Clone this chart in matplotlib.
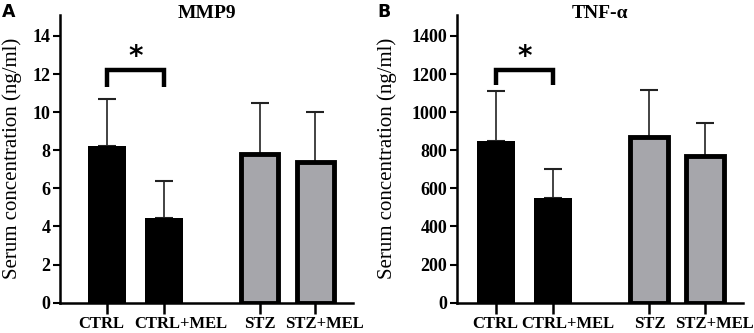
import matplotlib
matplotlib.use("Agg")
import matplotlib.pyplot as plt
from matplotlib.transforms import ScaledTranslation

categories = ["CTRL", "CTRL+MEL", "STZ", "STZ+MEL"]
positions = [0, 1, 2.68, 3.66]
mmp9_mean = [8.22, 4.46, 7.81, 7.38]
mmp9_err = [2.46, 1.92, 2.66, 2.64]
tnf_mean = [848, 551, 870, 768]
tnf_err = [264, 150, 245, 174]
mmp9_ticks = [0, 2, 4, 6, 8, 10, 12, 14]
tnf_ticks = [0, 200, 400, 600, 800, 1000, 1200, 1400]

SERIF = ["Liberation Serif", "DejaVu Serif"]
plt.rcParams['font.family'] = SERIF

fig = plt.figure(figsize=(7.54, 3.33), dpi=100)
W, H = 754, 333
axA = fig.add_axes([60 / W, 1 - 302.7 / H, 293 / W, 287.7 / H])
axB = fig.add_axes([457 / W, 1 - 302.7 / H, 286 / W, 287.7 / H])

face = ["black", "black", "#A6A6AB", "#A6A6AB"]
edge = ["black"] * 4


def draw(ax, mean, err, ticks, ymax, title, letter, xlim, bracket, letter_x,
         ylab_x, label_shift):
    ax.bar(positions, mean, width=0.66, color=face, edgecolor=edge,
           linewidth=[0, 0, 3.5, 3.5], zorder=2)
    ax.errorbar(positions, mean, yerr=[[0] * 4, err], fmt="none",
                ecolor="#222222", elinewidth=1.2, capsize=6.7, capthick=1.5, zorder=1)
    ax.set_xlim(*xlim)
    ax.set_ylim(0, ymax)
    ax.set_yticks(ticks)
    ax.set_yticklabels([str(t) for t in ticks], fontsize=13, fontweight="bold")
    ax.set_xticks(positions)
    ax.set_xticklabels([])
    base = ax.get_xaxis_transform()
    for pos, cat, dx in zip(positions, categories, label_shift):
        ax.text(pos, 0, cat, ha="center", va="baseline", fontsize=12,
                fontweight="bold", clip_on=False,
                transform=base + ScaledTranslation(dx / 100, -25.5 / 100, fig.dpi_scale_trans))
    for s in ["top", "right"]:
        ax.spines[s].set_visible(False)
    for s in ["left", "bottom"]:
        ax.spines[s].set_linewidth(1.8)
    ax.tick_params(axis="y", length=5, width=1.5, pad=2)
    ax.tick_params(axis="x", length=8, width=1.8)
    bb = ax.get_position()
    fig.text((bb.x0 + bb.x1) / 2, 1 - 13 / H, title, ha="center", va="center",
             fontsize=14, fontweight="bold")
    ax.set_ylabel("Serum concentration (ng/ml)", fontsize=15)
    ax.yaxis.set_label_coords(ylab_x, 0.5)
    # significance bracket
    top, leg, star = bracket
    ax.plot([positions[0], positions[0], positions[1], positions[1]],
            [leg, top, top, leg], color="black", linewidth=3.2,
            solid_capstyle="butt", solid_joinstyle="miter", clip_on=False)
    ax.text((positions[0] + positions[1]) / 2, star, "*", ha="center", va="center",
            fontsize=20, fontweight="bold", family=["DejaVu Sans"])
    fig.text(letter_x, 0.99, letter, ha="left", va="top", fontsize=12.5,
             fontweight="bold", family=["DejaVu Sans"])


draw(axA, mmp9_mean, mmp9_err, mmp9_ticks, 15.1, "MMP9", "A",
     (-0.82, 4.32), (12.2, 11.3, 12.9), 0.003, -0.13, [-5, 17, 0, 9])
draw(axB, tnf_mean, tnf_err, tnf_ticks, 1510, "TNF-α", "B",
     (-0.68, 4.33), (1220, 1140, 1290), 0.501, -0.21, [-1, 15, 1, 10])

fig.savefig("out.png", dpi=100)
